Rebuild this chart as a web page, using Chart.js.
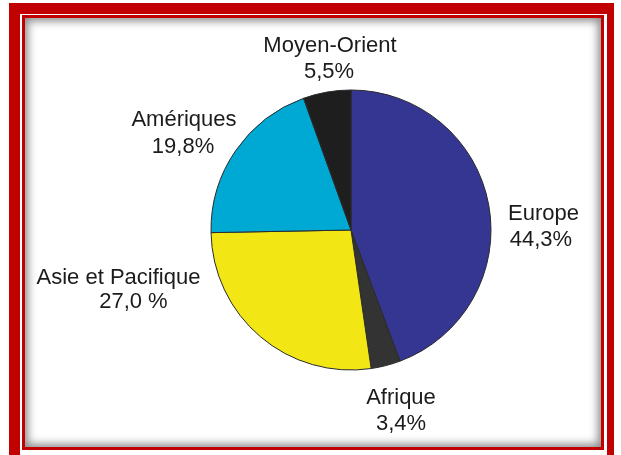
<!DOCTYPE html>
<html>
<head>
<meta charset="utf-8">
<script src="https://cdn.jsdelivr.net/npm/chart.js@4/dist/chart.umd.min.js"></script>
<style>
  html, body { margin: 0; padding: 0; background: #ffffff; width: 621px; height: 455px; overflow: hidden; }
  .outer { position: absolute; left: 9px; top: 3px; width: 605px; height: 480px; box-sizing: border-box;
           border-left: 11px solid #c10000; border-top: 11px solid #c10000; border-right: 7px solid #c10000; }
  .thin { position: absolute; left: 22px; top: 15px; width: 582px; height: 435px; box-sizing: border-box;
          border: 3.5px solid #c10000; background: #ffffff; }
  .panel { position: absolute; left: 0; top: 0; right: 0; bottom: 0;
           box-shadow: inset 0 0 8px 3px rgba(60,60,60,0.6); background: #ffffff; }
  canvas { position: absolute; left: 0; top: 0; }
</style>
</head>
<body>
<div class="outer"></div>
<div class="thin"><div class="panel"></div></div>
<canvas id="c" width="621" height="455"></canvas>
<script>
const categories = ['Europe', 'Afrique', 'Asie et Pacifique', 'Amériques', 'Moyen-Orient'];
const values = [44.3, 3.4, 27.0, 19.8, 5.5];
const valueLabels = ['44,3%', '3,4%', '27,0 %', '19,8%', '5,5%'];
const colors = ['#353592', '#333333', '#f2e614', '#00a9d4', '#1e1e1e'];

// label line positions in units of the pie radius, relative to the pie centre
const labelLayout = [
  [1.375, -0.114, 1.357, 0.071],
  [0.357, 1.20, 0.357, 1.386],
  [-1.661, 0.343, -1.554, 0.514],
  [-1.193, -0.786, -1.20, -0.596],
  [-0.15, -1.314, -0.157, -1.129]
];

const labelPlugin = {
  id: 'sliceLabels',
  afterDraw(chart) {
    const meta = chart.getDatasetMeta(0);
    const ctx = chart.ctx;
    ctx.save();
    ctx.font = '22px "Liberation Sans", Arial, sans-serif';
    ctx.fillStyle = '#1c1a1b';
    ctx.textAlign = 'center';
    ctx.textBaseline = 'middle';
    meta.data.forEach((arc, i) => {
      const r = arc.outerRadius;
      const L = labelLayout[i];
      ctx.fillText(chart.data.labels[i], arc.x + L[0] * r, arc.y + L[1] * r);
      ctx.fillText(valueLabels[i], arc.x + L[2] * r, arc.y + L[3] * r);
    });
    ctx.restore();
  }
};

new Chart(document.getElementById('c'), {
  type: 'pie',
  data: {
    labels: categories,
    datasets: [{
      data: values,
      backgroundColor: colors,
      borderColor: '#2a2a2a',
      borderWidth: 1
    }]
  },
  options: {
    responsive: false,
    animation: false,
    layout: { padding: { left: 210.5, right: 129.5, top: 89.5, bottom: 84.5 } },
    plugins: { legend: { display: false }, tooltip: { enabled: false } }
  },
  plugins: [labelPlugin]
});
</script>
</body>
</html>
